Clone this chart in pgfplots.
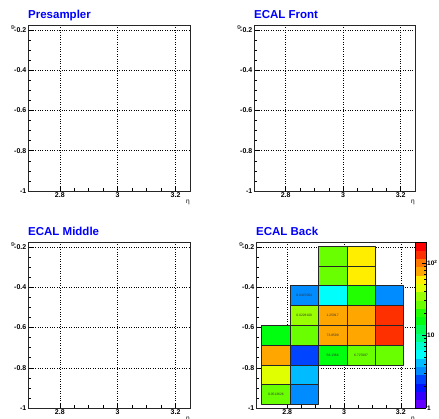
\documentclass[border=0pt]{standalone}
\usepackage{pgfplots}
\pgfplotsset{compat=1.18}
\usepackage{pgfplotstable}
\usepackage{fontspec}
\setmainfont{Liberation Sans}
\usepgfplotslibrary{patchplots}

\pgfplotsset{colormap={rootpal}{
rgb255=(99,0,255) rgb255=(51,0,255) rgb255=(0,20,255) rgb255=(0,68,255) rgb255=(0,139,255)
rgb255=(0,187,255) rgb255=(0,255,252) rgb255=(0,255,204) rgb255=(0,255,133) rgb255=(0,255,85)
rgb255=(0,255,14) rgb255=(34,255,0) rgb255=(105,255,0) rgb255=(153,255,0) rgb255=(224,255,0)
rgb255=(255,238,0) rgb255=(255,167,0) rgb255=(255,119,0) rgb255=(255,48,0) rgb255=(255,0,0)}}

% ECAL Back cells: 4 corners per cell (ll, lr, ur, ul), z = content
\pgfplotstableread{
x y z
2.91 -0.2945 27
3.01 -0.2945 27
3.01 -0.1963 27
2.91 -0.1963 27
3.01 -0.2945 59
3.11 -0.2945 59
3.11 -0.1963 59
3.01 -0.1963 59
2.91 -0.3927 27
3.01 -0.3927 27
3.01 -0.2945 27
2.91 -0.2945 27
3.01 -0.3927 59
3.11 -0.3927 59
3.11 -0.2945 59
3.01 -0.2945 59
2.81 -0.4909 3.3
2.91 -0.4909 3.3
2.91 -0.3927 3.3
2.81 -0.3927 3.3
2.91 -0.4909 5.5
3.01 -0.4909 5.5
3.01 -0.3927 5.5
2.91 -0.3927 5.5
3.01 -0.4909 21
3.11 -0.4909 21
3.11 -0.3927 21
3.01 -0.3927 21
3.11 -0.4909 3.3
3.21 -0.4909 3.3
3.21 -0.3927 3.3
3.11 -0.3927 3.3
2.81 -0.5890 35
2.91 -0.5890 35
2.91 -0.4909 35
2.81 -0.4909 35
2.91 -0.5890 77
3.01 -0.5890 77
3.01 -0.4909 77
2.91 -0.4909 77
3.01 -0.5890 77
3.11 -0.5890 77
3.11 -0.4909 77
3.01 -0.4909 77
3.11 -0.5890 130
3.21 -0.5890 130
3.21 -0.4909 130
3.11 -0.4909 130
2.71 -0.6872 16
2.81 -0.6872 16
2.81 -0.5890 16
2.71 -0.5890 16
2.81 -0.6872 27
2.91 -0.6872 27
2.91 -0.5890 27
2.81 -0.5890 27
2.91 -0.6872 77
3.01 -0.6872 77
3.01 -0.5890 77
2.91 -0.5890 77
3.01 -0.6872 77
3.11 -0.6872 77
3.11 -0.5890 77
3.01 -0.5890 77
3.11 -0.6872 130
3.21 -0.6872 130
3.21 -0.5890 130
3.11 -0.5890 130
2.71 -0.7854 77
2.81 -0.7854 77
2.81 -0.6872 77
2.71 -0.6872 77
2.81 -0.7854 2.5
2.91 -0.7854 2.5
2.91 -0.6872 2.5
2.81 -0.6872 2.5
2.91 -0.7854 16
3.01 -0.7854 16
3.01 -0.6872 16
2.91 -0.6872 16
3.01 -0.7854 27
3.11 -0.7854 27
3.11 -0.6872 27
3.01 -0.6872 27
3.11 -0.7854 27
3.21 -0.7854 27
3.21 -0.6872 27
3.11 -0.6872 27
2.71 -0.8836 45
2.81 -0.8836 45
2.81 -0.7854 45
2.71 -0.7854 45
2.81 -0.8836 4.2
2.91 -0.8836 4.2
2.91 -0.7854 4.2
2.81 -0.7854 4.2
2.71 -0.9817 27
2.81 -0.9817 27
2.81 -0.8836 27
2.71 -0.8836 27
2.81 -0.9817 3.3
2.91 -0.9817 3.3
2.91 -0.8836 3.3
2.81 -0.8836 3.3
}\cells

\pgfplotstableread{
x y lab
2.86 -0.4418 0.0447004
2.86 -0.5400 0.0228100
2.96 -0.5400 1.25917
2.96 -0.6381 73.8599
2.96 -0.7363 56.1366
3.06 -0.7363 6.727087
2.76 -0.9327 0.0513626
}\labels

\pgfplotsset{
  every axis title shift=0pt,
  colorbar shift/.style={xshift=0pt},
  rootax/.style={
    scale only axis, height=166pt,
    xmin=2.69, xmax=3.25, ymin=-1, ymax=-0.175,
    xtick={2.8,3,3.2}, xticklabels={2.8,3,3.2},
    ytick={-1,-0.8,-0.6,-0.4,-0.2}, yticklabels={-1,-0.8,-0.6,-0.4,-0.2},
    minor x tick num=3, minor y tick num=3,
    tick pos=left, tick align=inside,
    major tick length=5pt, minor tick length=2.5pt,
    tick style={black, line width=0.5pt},
    grid=major, major grid style={black, dotted, line width=0.5pt},
    axis line style={black!85, line width=0.8pt},
    tick label style={font=\bfseries\fontsize{7}{8}\selectfont},
    xticklabel style={inner sep=1.5pt},
    yticklabel style={inner sep=1.5pt},
    title style={at={(0,1)}, anchor=base west, yshift=6pt, inner sep=0pt,
      font=\bfseries\fontsize{11.5}{13}\selectfont, text=blue},
    xlabel={η},
    xlabel style={at={(axis description cs:1,0)}, anchor=north east, yshift=-9pt, inner sep=0pt,
      font=\fontsize{6.5}{7}\selectfont},
    ylabel={φ},
    ylabel style={at={(axis description cs:-0.09,1)}, anchor=east, rotate=0, inner sep=0pt,
      font=\fontsize{6}{7}\selectfont},
  }
}

\begin{document}
\begin{tikzpicture}
\path[use as bounding box] (0,0) rectangle (439pt,419pt);

\begin{axis}[rootax, width=162pt, at={(28pt,228pt)}, anchor=south west, title={Presampler}]
\end{axis}

\begin{axis}[rootax, width=161pt, at={(254pt,228pt)}, anchor=south west, title={ECAL Front}]
\end{axis}

\begin{axis}[rootax, width=162pt, at={(28pt,11pt)}, anchor=south west, title={ECAL Middle}]
\end{axis}

\begin{axis}[rootax, width=159pt, at={(256pt,11pt)}, anchor=south west, title={ECAL Back},
  colormap name=rootpal, colormap access=piecewise constant,
  point meta min=0, point meta max=2.286,
  colorbar,
  colorbar style={at={(parent axis.north east)}, anchor=north west, xshift=0pt,
    scale only axis, width=11pt, height=166pt,
    ytick={0,1,2}, yticklabels={1,10,10\textsuperscript{2}},
    minor ytick={0.30103,0.47712,0.60206,0.69897,0.77815,0.84510,0.90309,0.95424,
      1.30103,1.47712,1.60206,1.69897,1.77815,1.84510,1.90309,1.95424},
    ytick pos=right, yticklabel pos=right, tick align=inside,
    major tick length=4pt, minor tick length=2pt,
    tick style={black, line width=0.5pt},
    axis line style={black, line width=0.5pt},
    yticklabel style={font=\bfseries\fontsize{6.5}{7}\selectfont, inner sep=1pt},
  }]
\addplot[patch, patch type=rectangle, shader=faceted, faceted color=black!85,
  line width=0.6pt, point meta={log10(\thisrow{z})}] table[x=x, y=y] {\cells};
\addplot[draw=none, mark=none, nodes near coords, point meta=explicit symbolic,
  nodes near coords style={font=\fontsize{3.3}{4}\selectfont, anchor=center, text=black!80}]
  table[x=x, y=y, meta=lab] {\labels};
\end{axis}
\end{tikzpicture}
\end{document}
